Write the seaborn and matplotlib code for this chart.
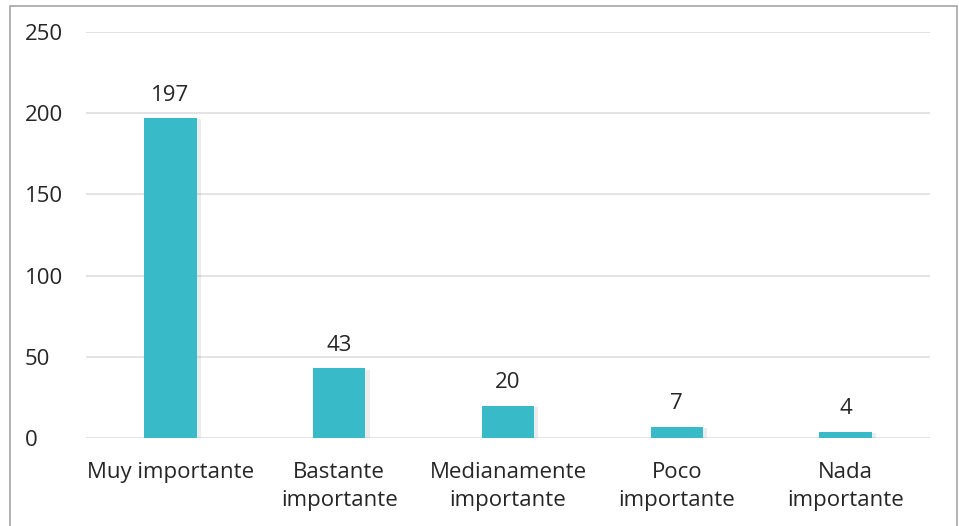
import matplotlib
matplotlib.use("Agg")
import matplotlib.pyplot as plt
import matplotlib.patheffects as pe
from matplotlib.patches import Rectangle
import seaborn as sns
import pandas as pd

categories = ["Muy importante", "Bastante\nimportante", "Medianamente\nimportante",
              "Poco\nimportante", "Nada\nimportante"]
values = [197, 43, 20, 7, 4]
yticks = [0, 50, 100, 150, 200, 250]

sns.set_theme(style="white")
plt.rcParams['font.family'] = ['Open Sans', 'DejaVu Sans']

df = pd.DataFrame({"cat": categories, "val": values})

fig = plt.figure(figsize=(9.59, 5.26), dpi=100)
ax = fig.add_axes([86/959, 1-438/526, (930-86)/959, (438-32)/526])

sns.barplot(data=df, x="cat", y="val", color="#38BAC9", saturation=1, width=0.31, ax=ax, zorder=3)
for p in ax.patches:
    p.set_path_effects([pe.SimplePatchShadow(offset=(3, -1), shadow_rgbFace="#999999", alpha=0.18), pe.Normal()])
    p.set_edgecolor("none")

fs = 16
tc = "#262626"
for i, v in enumerate(values):
    ax.annotate(str(v), (i, v), xytext=(0, 9), textcoords="offset points",
                ha="center", va="bottom", fontsize=fs, color=tc)

ax.set_xlim(-0.5, 4.5)
ax.set_ylim(0, 250)
ax.set_yticks(yticks)
ax.set_yticklabels([str(t) for t in yticks])
ax.grid(axis="y", color="#e0e0e0", linewidth=1.3, zorder=0)
ax.set_axisbelow(True)
for s in ax.spines.values():
    s.set_visible(False)
ax.set_xlabel("")
ax.set_ylabel("")
ax.tick_params(axis="y", length=0, pad=44, labelsize=fs, labelcolor=tc)
for lab in ax.get_yticklabels():
    lab.set_horizontalalignment("left")
ax.tick_params(axis="x", length=0, pad=17, labelsize=fs, labelcolor=tc)
for lab in ax.get_xticklabels():
    lab.set_linespacing(1.45)

fig.patches.append(Rectangle((10/959, -0.05), (957-10)/959, 1.05 - 6/526,
                             transform=fig.transFigure, fill=False,
                             edgecolor="#a6a6a6", linewidth=1.2, clip_on=False))

fig.savefig("out.png", dpi=100)
